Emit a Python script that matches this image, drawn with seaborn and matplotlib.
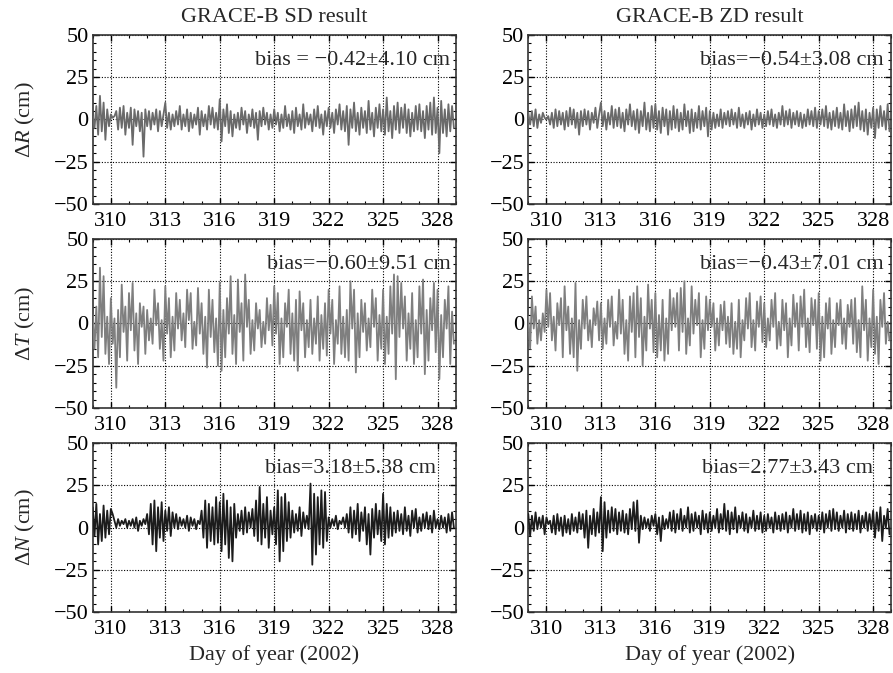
import matplotlib
matplotlib.use("Agg")
import matplotlib.pyplot as plt
import numpy as np
import pandas as pd
import seaborn as sns
from matplotlib.ticker import MultipleLocator

# time axis: 10 samples per day from day 309 to 329
day_start = 309.0
samples_per_day = 10

# values in cm, one row of 10 per day
sd_r = [
    2, -5, 8, -9, 14, -7, 10, -12, 6, -4,
    3, 1, 2, 5, -6, 7, -5, 8, -9, 4,
    -5, 7, -15, 6, -4, 5, -7, 4, -22, 6,
    -4, 5, -6, 4, -3, 6, -7, 5, -4, 3,
    10, -5, 4, -6, 3, -4, 5, -3, 8, -6,
    3, -4, 6, -7, 4, -5, 3, -3, 7, -9,
    5, -4, 3, -6, 8, -3, 7, -5, 4, -6,
    12, -13, 6, -4, 9, -8, 5, -10, 3, -5,
    4, -6, 7, -3, 5, -8, 3, -4, 6, -5,
    4, -12, 5, -4, 7, -3, 4, -6, 3, -5,
    6, -3, 4, -7, 3, -5, 8, -4, 3, -6,
    5, -8, 7, -4, 3, -6, 9, -5, 4, -3,
    3, -7, 6, -4, 8, -5, 3, -9, 5, -4,
    7, -5, 4, -8, 6, -3, 9, -6, 5, -7,
    8, -15, 6, -5, 10, -7, 4, -9, 7, -5,
    5, -8, 11, -6, 4, -10, 7, -5, 9, -7,
    6, -9, 13, -7, 5, -11, 8, -6, 10, -8,
    7, -5, 9, -8, 6, -10, 4, -7, 8, -6,
    9, -7, 5, -11, 8, -6, 10, -9, 13, -8,
    7, -20, 11, -8, 6, -10, 9, -7, 8, -5,
]
zd_r = [
    4, -3, 5, -4, 6, -5, 3, -2, 4, 1,
    0, 2, -3, 4, -5, 6, -4, 5, -3, 4,
    -6, 5, -4, 7, -3, 6, -5, 4, -9, 5,
    -4, 6, -3, 5, -6, 4, -2, 7, -5, 3,
    10, -4, 5, -6, 4, -3, 8, -5, 6, -4,
    7, -5, 4, -7, 6, -3, 9, -4, 5, -6,
    6, -8, 5, -4, 10, -6, 4, -7, 8, -5,
    9, -6, 5, -8, 7, -4, 6, -9, 5, -6,
    8, -5, 6, -7, 4, -6, 9, -4, 5, -8,
    6, -7, 4, -5, 8, -6, 5, -4, 7, -10,
    5, -6, 4, -5, 3, -4, 6, -5, 4, -3,
    5, -4, 6, -3, 4, -5, 7, -4, 3, -5,
    4, -3, 5, -6, 3, -4, 6, -3, 4, -5,
    3, -4, 5, -3, 6, -4, 3, -5, 4, -3,
    8, -4, 5, -3, 6, -5, 4, -3, 5, -4,
    4, -5, 3, -4, 6, -3, 5, -4, 7, -5,
    5, -3, 6, -4, 8, -5, 4, -6, 5, -4,
    7, -5, 4, -6, 9, -4, 5, -7, 6, -5,
    8, -4, 10, -6, 5, -7, 6, -9, 4, -5,
    7, -11, 6, -5, 8, -4, 5, -6, 9, -7,
]
sd_t = [
    5, -15, 10, -20, 33, -8, 28, -18, 4, -24,
    15, -12, 3, -38, 8, -20, 23, -5, 10, -22,
    18, -4, 24, -16, 6, -24, 12, -2, 10, -18,
    8, -10, 3, -12, 20, -1, 12, -15, 2, -22,
    22, -6, 15, -20, 4, -16, 18, -3, 14, -10,
    6, -14, 20, 2, 18, -15, 1, -13, 21, -6,
    12, -18, 4, -26, 20, -8, 14, -17, 3, -25,
    24, -28, 8, -20, 15, -6, 28, -18, 5, -24,
    26, -5, 12, -22, 29, -2, 14, -18, 2, -16,
    12, -3, 8, -14, 1, -12, 15, -4, 11, -13,
    22, -6, 18, -24, 3, -20, 12, -2, 20, -18,
    6, -22, 14, -28, 19, -4, 12, -20, 2, -14,
    14, -18, 3, -12, 16, -22, 5, -15, 12, -19,
    20, -6, 14, -24, 2, -12, 22, -18, 4, -20,
    8, -22, 25, -3, 20, -29, 6, -20, 14, -5,
    12, -16, 3, -14, 20, -2, 15, -22, 5, -15,
    20, -24, 4, -18, 22, -6, 29, -33, 28, -8,
    24, -3, 16, -22, 6, -15, 18, -24, 2, -20,
    22, -6, 26, -30, 8, -22, 15, -4, 24, -17,
    20, -33, 5, -20, 14, -3, 22, -24, 7, -12,
]
zd_t = [
    4, -15, 16, -3, 10, -12, 2, -10, 6, -5,
    20, -2, 18, -10, 4, -16, 12, -1, 15, -20,
    22, -4, 10, -18, 3, -20, 24, -28, 2, -15,
    14, -3, 16, -10, 2, -14, 9, -1, 13, -10,
    12, -15, 3, -12, 14, -2, 16, -13, 1, -9,
    20, -6, 14, -18, 2, -22, 16, -5, 18, -20,
    22, -8, 15, -25, 4, -16, 23, -3, 14, -17,
    18, -20, 5, -16, 14, -22, 3, -18, 20, -4,
    15, -2, 18, -16, 21, -5, 25, -18, 3, -13,
    22, -6, 14, -1, 18, -20, 2, -15, 16, -4,
    14, -2, 12, -16, 3, -13, 11, -4, 13, -12,
    4, -14, 12, -18, 1, -15, 14, -20, 2, -10,
    15, -3, 18, -14, 2, -16, 13, -2, 16, -11,
    12, -14, 3, -10, 14, -2, 18, -15, 1, -13,
    14, -4, 12, -20, 3, -13, 17, -2, 12, -16,
    16, -2, 20, -14, 3, -17, 15, -1, 14, -15,
    18, -22, 4, -20, 12, -3, 15, -18, 2, -14,
    12, -1, 14, -12, 3, -15, 11, -2, 14, -12,
    15, -17, 2, -20, 22, -4, 14, -22, 3, -14,
    20, -18, 4, -24, 14, -2, 18, -12, 1, -10,
]
sd_n = [
    12, -5, 14, -10, 8, -8, 13, -6, 10, -4,
    11, 8, 4, 0, 5, 1, 4, 2, 5, 0,
    4, 1, 5, 0, 6, -2, 4, 1, 5, 2,
    8, -4, 14, -10, 16, -14, 12, -6, 15, -8,
    10, -2, 12, -5, 9, 0, 8, -1, 6, 1,
    5, 0, 7, -2, 6, 1, 5, -1, 4, 2,
    10, -6, 16, -12, 14, -8, 12, -10, 18, -9,
    15, -14, 20, -10, 16, -18, 12, -20, 14, -6,
    8, -2, 10, -4, 12, -3, 9, 0, 11, -5,
    16, -8, 24, -10, 14, -6, 18, -12, 10, -4,
    12, -10, 22, -20, 18, -14, 20, -8, 15, -6,
    10, -3, 8, -2, 12, -5, 9, 0, 7, -1,
    26, -22, 20, -16, 18, -10, 22, -12, 21, -8,
    6, 0, 5, 1, 7, -1, 4, 2, 6, 0,
    8, -3, 12, -6, 10, -4, 14, -8, 9, -2,
    12, -10, 8, -16, 11, -6, 14, -4, 10, -8,
    20, -10, 14, -6, 12, -5, 9, -3, 10, -2,
    8, -4, 12, -2, 7, -5, 10, 0, 11, -3,
    6, -2, 8, 0, 9, -1, 7, -3, 10, 0,
    5, -1, 7, 0, 6, -3, 8, -2, 9, 0,
]
zd_n = [
    8, -5, 7, -2, 9, -1, 6, 0, 7, -4,
    6, 2, 4, -3, 7, -4, 8, -2, 6, -5,
    7, -3, 5, -4, 8, -2, 6, -3, 9, -1,
    8, -6, 10, -12, 7, -4, 11, -5, 9, -3,
    18, -14, 15, -6, 10, -3, 12, -2, 11, -4,
    9, -2, 10, -3, 8, -4, 11, -1, 15, -2,
    16, -9, 7, -1, 6, 0, 5, -2, 7, 1,
    8, -4, 6, -8, 7, -1, 5, 0, 9, -2,
    10, -3, 8, -1, 11, -2, 7, 0, 12, -3,
    8, -2, 9, 0, 7, -4, 10, -1, 8, -3,
    9, -2, 7, 0, 11, -3, 8, -1, 14, -2,
    10, -4, 9, -1, 12, -3, 7, 0, 9, -2,
    8, -3, 6, 0, 10, -2, 7, -1, 9, -3,
    7, -2, 8, 0, 6, -3, 9, -1, 7, -2,
    8, -1, 9, -3, 7, 0, 11, -2, 8, -1,
    10, -3, 8, -2, 9, -4, 7, 0, 8, -2,
    7, -1, 9, -3, 8, 0, 10, -2, 11, -1,
    9, -2, 7, 0, 10, -3, 8, -1, 9, -2,
    8, -1, 10, -3, 7, 0, 9, -2, 8, -1,
    10, -6, 9, -2, 12, -8, 7, 0, 11, -4,
]

col_titles = ["GRACE-B SD result", "GRACE-B ZD result"]
row_labels = ["Δ$\\mathit{R}$ (cm)", "Δ$\\mathit{T}$ (cm)", "Δ$\\mathit{N}$ (cm)"]
series = [[sd_r, zd_r], [sd_t, zd_t], [sd_n, zd_n]]
bias_text = [
    ["bias = \u22120.42\u00b14.10 cm", "bias=\u22120.54\u00b13.08 cm"],
    ["bias=\u22120.60\u00b19.51 cm", "bias=\u22120.43\u00b17.01 cm"],
    ["bias=3.18\u00b15.38 cm", "bias=2.77\u00b13.43 cm"],
]
bias_x = [[0.985, 0.98], [0.985, 0.98], [0.945, 0.95]]
row_colors = ["#6a6a6a", "#7f7f7f", "#1c1c1c"]
x_ticks = [310, 313, 316, 319, 322, 325, 328]
y_ticks = [-50, -25, 0, 25, 50]

sns.set_theme(style="ticks")
plt.rcParams["font.family"] = ["Liberation Serif", "DejaVu Serif"]
plt.rcParams["mathtext.fontset"] = "custom"
plt.rcParams["mathtext.it"] = "Liberation Serif:italic"
plt.rcParams["mathtext.rm"] = "Liberation Serif"

fig = plt.figure(figsize=(8.93, 6.73), dpi=100)
lefts = [0.1038, 0.5916]
width = 0.4065
bottoms = [0.6969, 0.3938, 0.0906]
height = 0.2511
fs = 16

for r in range(3):
    for c in range(2):
        ax = fig.add_axes([lefts[c], bottoms[r], width, height])
        vals = series[r][c]
        days = day_start + np.arange(len(vals)) / samples_per_day
        df = pd.DataFrame({"day": days, "value": vals})
        sns.lineplot(data=df, x="day", y="value", ax=ax, color=row_colors[r],
                     linewidth=1.3, estimator=None, zorder=3)
        ax.set_xlim(309, 329)
        ax.set_ylim(-50, 50)
        ax.set_xticks(x_ticks)
        ax.set_yticks(y_ticks)
        ax.set_yticklabels([str(v).replace("-", "\u2212") for v in y_ticks])
        ax.xaxis.set_minor_locator(MultipleLocator(1))
        ax.yaxis.set_minor_locator(MultipleLocator(5))
        ax.tick_params(which="both", direction="in", top=True, right=True,
                       labelsize=fs, colors="black")
        ax.tick_params(which="major", length=4, width=1, pad=3)
        ax.tick_params(axis="x", which="major", pad=6)
        ax.tick_params(which="minor", length=2.5, width=0.8)
        ax.grid(True, which="major", color="black", linestyle=(0, (1, 1.5)),
                linewidth=0.8, zorder=1)
        for sp in ax.spines.values():
            sp.set_linewidth(1.2)
            sp.set_color("#333333")
        ax.set_xlabel("Day of year (2002)" if r == 2 else "", fontsize=fs, labelpad=4)
        ax.set_ylabel(row_labels[r] if c == 0 else "", fontsize=fs, labelpad=12)
        if r == 0:
            ax.set_title(col_titles[c], fontsize=fs, pad=9)
        ax.text(bias_x[r][c], 0.85, bias_text[r][c], transform=ax.transAxes,
                ha="right", va="center", fontsize=fs, zorder=4)

fig.savefig("out.png", dpi=100)
